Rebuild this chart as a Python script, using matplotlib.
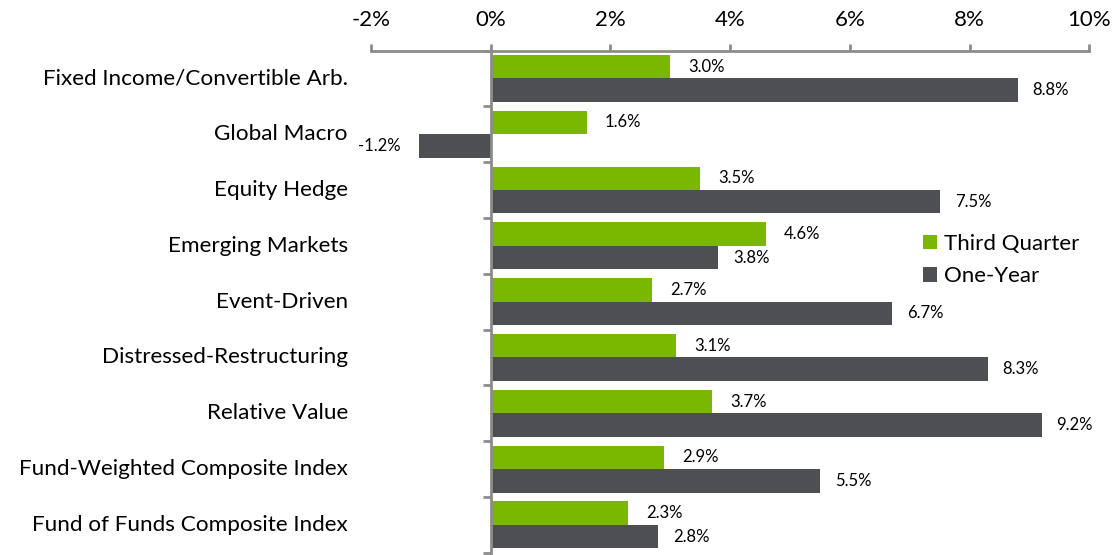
import matplotlib.pyplot as plt
import matplotlib.transforms as mtransforms
from matplotlib.ticker import FuncFormatter
import numpy as np

categories = ['Fixed Income/Convertible Arb.', 'Global Macro', 'Equity Hedge',
              'Emerging Markets', 'Event-Driven', 'Distressed-Restructuring',
              'Relative Value', 'Fund-Weighted Composite Index',
              'Fund of Funds Composite Index']
third_quarter = [3.0, 1.6, 3.5, 4.6, 2.7, 3.1, 3.7, 2.9, 2.3]
one_year = [8.8, -1.2, 7.5, 3.8, 6.7, 8.3, 9.2, 5.5, 2.8]
x_ticks = [-2, 0, 2, 4, 6, 8, 10]

green = '#7AB800'
dark = '#4D4F53'
axis_gray = '#8C8C8C'
font = 'Lato'

fig = plt.figure(figsize=(11.14, 5.55), dpi=100)
ax = fig.add_axes([0.333, 0.004, 0.645, 0.905])

y = np.arange(len(categories))
h = 0.42
ax.barh(y - h / 2, third_quarter, height=h, color=green, label='Third Quarter')
ax.barh(y + h / 2, one_year, height=h, color=dark, label='One-Year')

ax.set_xlim(-2, 10)
ax.set_ylim(len(categories) - 0.5, -0.5)

# value labels
for yy, v in zip(y - h / 2, third_quarter):
    ax.text(v + 0.3 if v >= 0 else v - 0.3, yy, f'{v:.1f}%', va='center',
            ha='left' if v >= 0 else 'right', fontsize=12, family=font)
for yy, v in zip(y + h / 2, one_year):
    ax.text(v + 0.25 if v >= 0 else v - 0.3, yy, f'{v:.1f}%', va='center',
            ha='left' if v >= 0 else 'right', fontsize=12, family=font)

# category labels
trans = mtransforms.blended_transform_factory(ax.transAxes, ax.transData)
for yy, c in zip(y, categories):
    ax.text(-0.032, yy, c, transform=trans, ha='right', va='center',
            fontsize=16.2, family=font)

# axes styling
ax.xaxis.tick_top()
ax.set_xticks(x_ticks)
ax.xaxis.set_major_formatter(FuncFormatter(lambda v, p: f'{v:.0f}%'))
ax.tick_params(axis='x', direction='out', length=5, width=2, color=axis_gray,
               pad=10, labelsize=16)
for lbl in ax.get_xticklabels():
    lbl.set_family(font)

ax.set_yticks(np.arange(-0.5, len(categories), 1.0))
ax.set_yticklabels([])
ax.tick_params(axis='y', direction='out', length=6, width=2, color=axis_gray)

for s in ['right', 'bottom']:
    ax.spines[s].set_visible(False)
ax.spines['top'].set_color(axis_gray)
ax.spines['top'].set_linewidth(2)
ax.spines['left'].set_position(('data', 0))
ax.spines['left'].set_color(axis_gray)
ax.spines['left'].set_linewidth(2)

leg = ax.legend(loc='upper left', bbox_to_anchor=(0.74, 0.675), frameon=False,
                prop={'family': font, 'size': 16}, handlelength=0.65,
                handleheight=0.65, handletextpad=0.3, labelspacing=0.55)

fig.savefig('out.png', dpi=100)
